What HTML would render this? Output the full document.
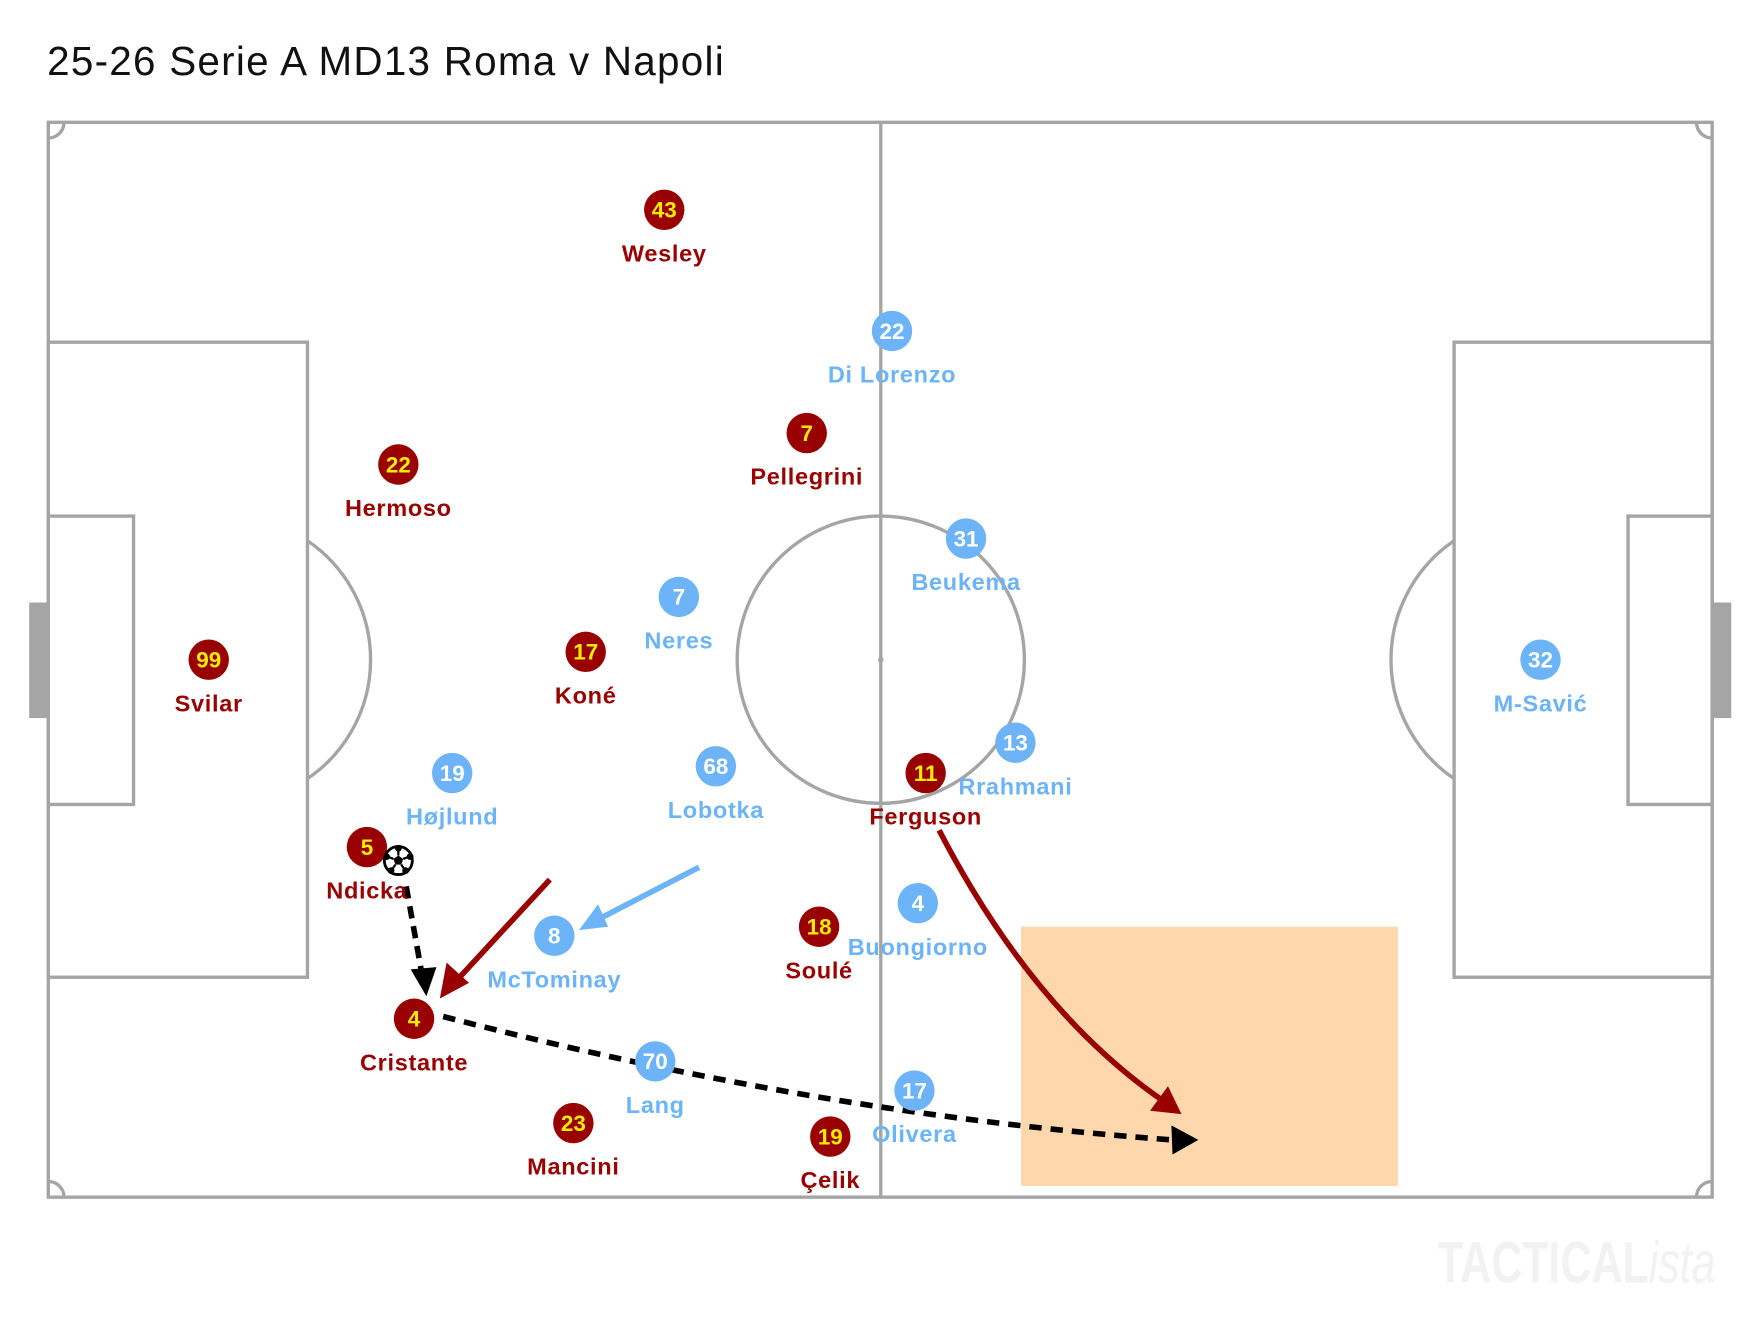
<!DOCTYPE html>
<html><head><meta charset="utf-8"><style>
html,body{margin:0;padding:0;background:#fff}
svg{display:block}
.r circle{fill:#990000}
.b circle{fill:#6cb4f7}
.num{font-family:"Liberation Sans Narrow","Liberation Sans",sans-serif;font-weight:bold;font-size:20px;text-anchor:middle}
.r .num{fill:#ffee00}
.b .num{fill:#fff}
.lbl{font-family:"Liberation Sans",sans-serif;font-weight:bold;font-size:21px;letter-spacing:0.6px;text-anchor:middle}
.r .lbl{fill:#990000}
.b .lbl{fill:#6cb4f7}
.ln{fill:none;stroke:#a5a5a5;stroke-width:3}
</style></head><body>
<svg width="1760" height="1320" viewBox="0 0 1568.6 1176.5" xmlns="http://www.w3.org/2000/svg">
<text x="42" y="67" font-family="Liberation Sans,sans-serif" font-size="36" fill="#111" textLength="603" lengthAdjust="spacing">25-26 Serie A MD13 Roma v Napoli</text>
<rect x="26" y="537" width="17" height="103" fill="#a5a5a5"/>
<rect x="1526" y="537" width="17" height="103" fill="#a5a5a5"/>
<rect x="910" y="826" width="336" height="231" fill="#fed7ad"/>
<rect class="ln" x="43" y="109" width="1483" height="958"/>
<line class="ln" x1="785" y1="109" x2="785" y2="1067"/>
<circle class="ln" cx="785" cy="588" r="128"/>
<circle cx="785" cy="588" r="2.5" fill="#a5a5a5"/>
<rect class="ln" x="43" y="305" width="231" height="566"/>
<rect class="ln" x="43" y="460" width="76" height="257"/>
<rect class="ln" x="1296" y="305" width="230" height="566"/>
<rect class="ln" x="1451" y="460" width="75" height="257"/>
<path class="ln" d="M274,482 A128,128 0 0 1 274,694"/>
<path class="ln" d="M1296,482 A128,128 0 0 0 1296,694"/>
<path class="ln" d="M43,123 A14,14 0 0 0 57,109 M1512,109 A14,14 0 0 0 1526,123 M43,1053 A14,14 0 0 1 57,1067 M1512,1067 A14,14 0 0 1 1526,1053"/>
<text x="1281" y="1143" font-family="Liberation Sans,sans-serif" font-weight="bold" font-size="52" fill="#f2f2f2" textLength="248" lengthAdjust="spacingAndGlyphs">TACTICAL<tspan font-style="italic" font-weight="normal">ista</tspan></text>

<line x1="490" y1="784" x2="405" y2="876" stroke="#990000" stroke-width="5"/>
<polygon points="392,890 398,858 418,876" fill="#990000"/>
<line x1="623" y1="773" x2="532" y2="820" stroke="#6cb4f7" stroke-width="5"/>
<polygon points="516,829 533,806 542,826" fill="#6cb4f7"/>
<path d="M362,790 L376,868" stroke="#000" stroke-width="5" stroke-dasharray="11,7" fill="none"/>
<polygon points="380,888 366,864 389,862" fill="#000"/>
<path d="M395,906 Q730,993 1045,1016" stroke="#000" stroke-width="5" stroke-dasharray="11,8" fill="none"/>
<polygon points="1068,1016 1044,1003 1045,1029" fill="#000"/>
<path d="M837,740 Q920,900 1035,980" stroke="#990000" stroke-width="5" fill="none"/>
<polygon points="1053,993 1025,990 1041,968" fill="#990000"/>

<g class="r">
<g transform="translate(592,187)"><circle r="18"/><text class="num" y="7">43</text><text class="lbl" y="46">Wesley</text></g>
<g transform="translate(719,386)"><circle r="18"/><text class="num" y="7">7</text><text class="lbl" y="46">Pellegrini</text></g>
<g transform="translate(355,414)"><circle r="18"/><text class="num" y="7">22</text><text class="lbl" y="46">Hermoso</text></g>
<g transform="translate(186,588)"><circle r="18"/><text class="num" y="7">99</text><text class="lbl" y="46">Svilar</text></g>
<g transform="translate(522,581)"><circle r="18"/><text class="num" y="7">17</text><text class="lbl" y="46">Koné</text></g>
<g transform="translate(327,755)"><circle r="18"/><text class="num" y="7">5</text><text class="lbl" y="46">Ndicka</text></g>
<g transform="translate(369,908)"><circle r="18"/><text class="num" y="7">4</text><text class="lbl" y="46">Cristante</text></g>
<g transform="translate(511,1001)"><circle r="18"/><text class="num" y="7">23</text><text class="lbl" y="46">Mancini</text></g>
<g transform="translate(740,1013)"><circle r="18"/><text class="num" y="7">19</text><text class="lbl" y="46">Çelik</text></g>
<g transform="translate(730,826)"><circle r="18"/><text class="num" y="7">18</text><text class="lbl" y="46">Soulé</text></g>
</g>
<g class="b">
<g transform="translate(795,295)"><circle r="18"/><text class="num" y="7">22</text><text class="lbl" y="46">Di Lorenzo</text></g>
<g transform="translate(861,480)"><circle r="18"/><text class="num" y="7">31</text><text class="lbl" y="46">Beukema</text></g>
<g transform="translate(605,532)"><circle r="18"/><text class="num" y="7">7</text><text class="lbl" y="46">Neres</text></g>
<g transform="translate(638,683)"><circle r="18"/><text class="num" y="7">68</text><text class="lbl" y="46">Lobotka</text></g>
<g transform="translate(403,689)"><circle r="18"/><text class="num" y="7">19</text><text class="lbl" y="46">Højlund</text></g>
<g transform="translate(905,662)"><circle r="18"/><text class="num" y="7">13</text><text class="lbl" y="46">Rrahmani</text></g>
<g transform="translate(494,834)"><circle r="18"/><text class="num" y="7">8</text><text class="lbl" y="46">McTominay</text></g>
<g transform="translate(818,805)"><circle r="18"/><text class="num" y="7">4</text><text class="lbl" y="46">Buongiorno</text></g>
<g transform="translate(584,946)"><circle r="18"/><text class="num" y="7">70</text><text class="lbl" y="46">Lang</text></g>
<g transform="translate(815,972)"><circle r="18"/><text class="num" y="7">17</text><text class="lbl" y="46">Olivera</text></g>
<g transform="translate(1373,588)"><circle r="18"/><text class="num" y="7">32</text><text class="lbl" y="46">M-Savić</text></g>
</g>
<g class="r"><g transform="translate(825,689)"><circle r="18"/><text class="num" y="7">11</text><text class="lbl" y="46">Ferguson</text></g></g>
<g transform="translate(355,767)">
<circle r="12.5" fill="#fff" stroke="#000" stroke-width="2.5"/>
<polygon points="0,-4.5 4.3,-1.4 2.6,3.6 -2.6,3.6 -4.3,-1.4" fill="#000"/>
<path d="M0,-12 L0,-4.5 M4.3,-1.4 L11,-4 M2.6,3.6 L7,10 M-2.6,3.6 L-7,10 M-4.3,-1.4 L-11,-4" stroke="#000" stroke-width="2"/>
<circle cx="0" cy="-11" r="3" fill="#000"/><circle cx="10.5" cy="-3.5" r="3" fill="#000"/><circle cx="6.5" cy="9" r="3" fill="#000"/><circle cx="-6.5" cy="9" r="3" fill="#000"/><circle cx="-10.5" cy="-3.5" r="3" fill="#000"/>
</g>
</svg>
</body></html>
